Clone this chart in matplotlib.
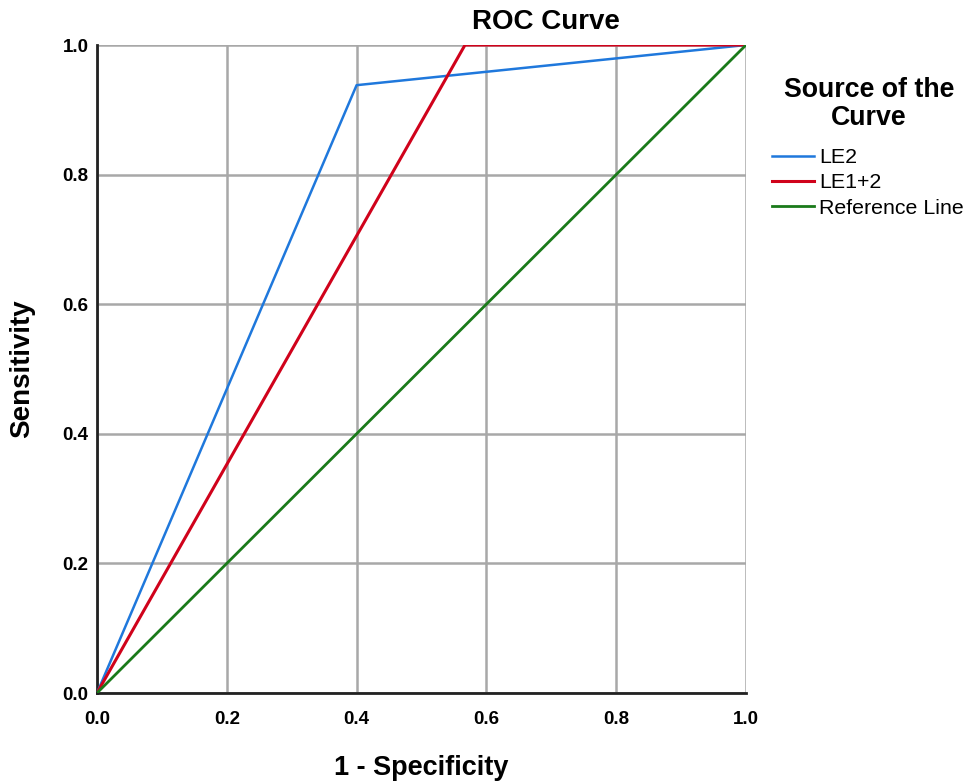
import matplotlib
matplotlib.use("Agg")
import matplotlib.pyplot as plt

plt.rcParams['font.family'] = ['Liberation Sans', 'DejaVu Sans']

le2_x = [0.0, 0.4, 1.0]
le2_y = [0.0, 0.938, 1.0]
le12_x = [0.0, 0.567, 1.0]
le12_y = [0.0, 1.0, 1.0]
ref_x = [0.0, 1.0]
ref_y = [0.0, 1.0]
ticks = [0.0, 0.2, 0.4, 0.6, 0.8, 1.0]
tick_labels = ["0.0", "0.2", "0.4", "0.6", "0.8", "1.0"]

fig = plt.figure(figsize=(9.69, 7.82), dpi=100)
ax = fig.add_axes([97/969, 1-693/782, (746-97)/969, (693-45)/782])

ax.plot(le2_x, le2_y, color='#1f78dc', lw=1.8, label='LE2', zorder=3)
ax.plot(le12_x, le12_y, color='#d0021b', lw=2.2, label='LE1+2', zorder=3)
ax.plot(ref_x, ref_y, color='#1a7a1a', lw=2.0, label='Reference Line', zorder=3)

ax.set_xlim(0, 1)
ax.set_ylim(0, 1)
ax.set_xticks(ticks)
ax.set_xticklabels(tick_labels, fontweight='bold')
ax.set_yticks(ticks)
ax.set_yticklabels(tick_labels, fontweight='bold')
ax.tick_params(length=0, labelsize=13.5)
ax.tick_params(axis='y', pad=6)
ax.tick_params(axis='x', pad=13)
ax.grid(True, color='#a8a8a8', lw=1.8)
ax.set_axisbelow(True)
for s in ['top', 'right']:
    ax.spines[s].set_visible(False)
for s in ['left', 'bottom']:
    ax.spines[s].set_color('#222222')
    ax.spines[s].set_linewidth(2.0)

ax.set_xlabel('1 - Specificity', fontsize=19.5, fontweight='bold', va='center')
ax.xaxis.set_label_coords(0.5, (693-768)/648)
ax.set_ylabel('Sensitivity', fontsize=20, fontweight='bold', va='center')
ax.yaxis.set_label_coords((22-97)/649, 0.5)
fig.text(546/969, 1-22/782, 'ROC Curve', fontsize=20, fontweight='bold', ha='center', va='center')

fig.text(869/969, 1-104/782, 'Source of the\nCurve', fontsize=19.3, fontweight='bold',
         ha='center', va='center', multialignment='center', linespacing=1.1)

leg = fig.legend(loc='upper left', bbox_to_anchor=(772/969, 1-148/782), frameon=False,
                 fontsize=15.4, handlelength=1.95, handletextpad=0.25,
                 labelspacing=0.3, borderaxespad=0, borderpad=0)

fig.savefig('out.png', dpi=100)
